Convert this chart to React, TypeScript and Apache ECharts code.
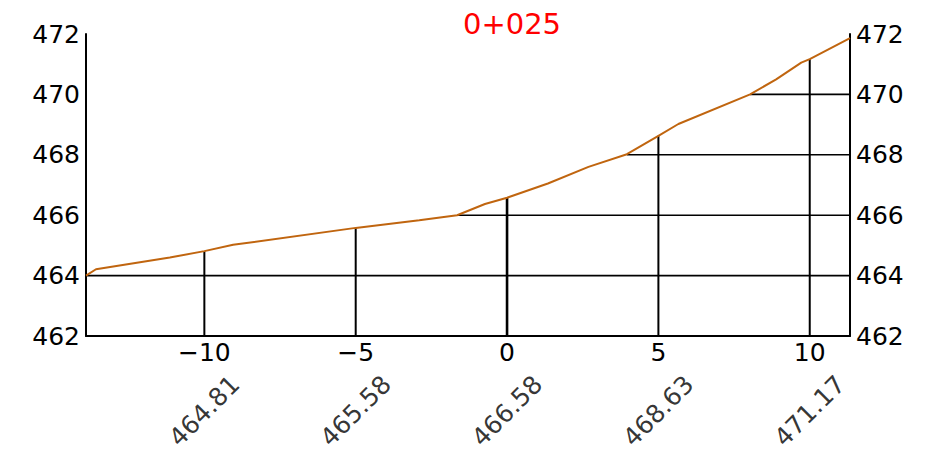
import React, { useEffect, useRef } from "react";
import * as echarts from "echarts";

const TITLE = "0+025";
const X_MIN = -13.91;
const X_MAX = 11.33;
const Y_MIN = 462;
const Y_MAX = 472;

// ground profile (offset, elevation)
const groundX = [-13.91, -13.58, -11.14, -10, -9.05, -5, -2.9, -1.65, -0.73, 0, 1.35, 2.69, 3.96, 5, 5.66, 8.03, 8.89, 9.72, 10, 11.33];
const groundY = [464.0, 464.21, 464.6, 464.81, 465.02, 465.58, 465.83, 466.0, 466.37, 466.58, 467.05, 467.6, 468.02, 468.63, 469.02, 470.0, 470.5, 471.05, 471.17, 471.86];

// stations and their labelled elevations
const stations = [-10, -5, 0, 5, 10];
const stationElev = [464.81, 465.58, 466.58, 468.63, 471.17];
const stationLabels = ["464.81", "465.58", "466.58", "468.63", "471.17"];

// horizontal level lines: level and x where it meets the ground
const levels = [464, 466, 468, 470];
const levelStartX = [-13.91, -1.65, 3.96, 8.03];

const FONT = "DejaVu Sans";

export default function App() {
  const ref = useRef<HTMLDivElement>(null);
  useEffect(() => {
    if (!ref.current) return;
    const chart = echarts.init(ref.current, null, { renderer: "svg" });
    const series: any[] = [];
    levels.forEach((lv, i) => {
      series.push({
        type: "line",
        data: [[levelStartX[i], lv], [X_MAX, lv]],
        symbol: "none",
        lineStyle: { color: "#000", width: 1.6 },
        z: 2,
      });
    });
    stations.forEach((s, i) => {
      series.push({
        type: "line",
        data: [[s, Y_MIN], [s, stationElev[i]]],
        symbol: "none",
        lineStyle: { color: "#000", width: s === 0 ? 2.6 : 2 },
        z: 2,
      });
    });
    series.push({
      type: "line",
      data: groundX.map((x, i) => [x, groundY[i]]),
      symbol: "none",
      lineStyle: { color: "#c0650f", width: 2 },
      z: 3,
    });
    const d = 75 * Math.SQRT1_2;
    series.push({
      type: "scatter",
      data: stations.map((s, i) => [s, Y_MIN, stationLabels[i]]),
      symbolSize: 0,
      clip: false,
      itemStyle: { color: "#000" },
      label: {
        show: true,
        formatter: (p: any) => p.data[2],
        position: "inside",
        offset: [-d, d],
        rotate: 45,
        align: "center",
        verticalAlign: "middle",
        color: "#000",
        textBorderWidth: 0,
        textBorderColor: "transparent",
        fontFamily: FONT,
        fontSize: 25,
      },
      z: 4,
    });
    const axisLabelStyle = {
      color: "#000",
      fontFamily: FONT,
      fontSize: 25,
    };
    const yAxisBase = {
      type: "value",
      min: Y_MIN,
      max: Y_MAX,
      interval: 2,
      axisLine: { show: true, onZero: false, lineStyle: { color: "#000", width: 2 } },
      axisTick: { show: false },
      splitLine: { show: false },
      axisLabel: { ...axisLabelStyle, margin: 6 },
    };
    chart.setOption({
      animation: false,
      title: {
        text: TITLE,
        left: 507,
        top: 4,
        textAlign: "center",
        textStyle: { color: "#ff0000", fontFamily: FONT, fontWeight: "normal", fontSize: 29 },
      },
      grid: { left: 86, right: 90, top: 34, bottom: 120 },
      xAxis: {
        type: "value",
        min: X_MIN,
        max: X_MAX,
        axisLine: { show: true, onZero: false, lineStyle: { color: "#000", width: 2 } },
        axisTick: { show: false },
        splitLine: { show: false },
        axisLabel: {
          ...axisLabelStyle,
          customValues: stations,
          margin: 4,
          formatter: (v: number) => String(v).replace("-", "\u2212"),
        },
      },
      yAxis: [
        { ...yAxisBase, position: "left" },
        { ...yAxisBase, position: "right" },
      ],
      series,
    });
    return () => chart.dispose();
  }, []);
  return <div ref={ref} style={{ width: 940, height: 456, margin: -8 }} />;
}
